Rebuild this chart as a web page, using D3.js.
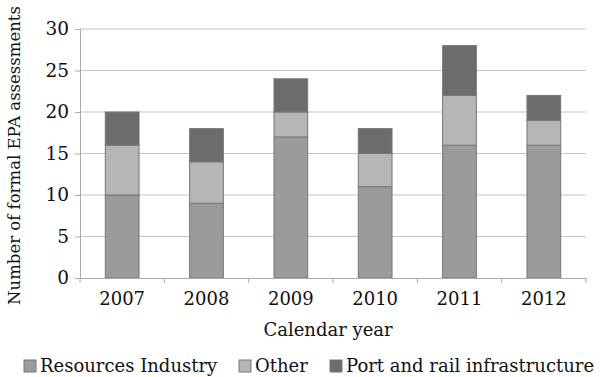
<!DOCTYPE html>
<html>
<head>
<meta charset="utf-8">
<script src="https://cdn.jsdelivr.net/npm/d3@7"></script>
<style>
  body { margin: 0; background: #fff; }
  svg text { font-family: "DejaVu Serif", serif; fill: #111; }
</style>
</head>
<body>
<svg id="SVG_CONTAINER" width="600" height="377"></svg>
<script>
// chart values
const years = ["2007", "2008", "2009", "2010", "2011", "2012"];
const resources = [10, 9, 17, 11, 16, 16];
const other = [6, 5, 3, 4, 6, 3];
const portRail = [4, 4, 4, 3, 6, 3];
const seriesNames = ["Resources Industry", "Other", "Port and rail infrastructure"];
const yTicks = [0, 5, 10, 15, 20, 25, 30];

const MARGIN = { LEFT: 80, RIGHT: 14, TOP: 29, BOTTOM: 99 };
const width = 600, height = 377;
const colors = ["#9b9b9b", "#b6b6b6", "#6c6c6c"];

var svg = d3.select("#SVG_CONTAINER");

// build rows for the stack layout
var rows = years.map((y, i) => ({ year: y, r: resources[i], o: other[i], p: portRail[i] }));
var stacked = d3.stack().keys(["r", "o", "p"])(rows);

var xScale = d3.scaleBand()
    .domain(years)
    .range([MARGIN.LEFT, width - MARGIN.RIGHT])
    .paddingInner(0.6)
    .paddingOuter(0.3);

var yScale = d3.scaleLinear()
    .domain([0, 30])
    .range([height - MARGIN.BOTTOM, MARGIN.TOP]);

// gridlines
svg.append("g")
    .selectAll("line")
    .data(yTicks.slice(1))
    .enter()
    .append("line")
    .attr("x1", MARGIN.LEFT)
    .attr("x2", width - MARGIN.RIGHT)
    .attr("y1", d => yScale(d))
    .attr("y2", d => yScale(d))
    .attr("stroke", "#c4c4c4")
    .attr("stroke-width", 1.2);

// bars
svg.append("g")
    .selectAll("g")
    .data(stacked)
    .enter()
    .append("g")
    .attr("fill", (d, i) => colors[i])
    .selectAll("rect")
    .data(d => d)
    .enter()
    .append("rect")
    .attr("x", d => xScale(d.data.year))
    .attr("y", d => yScale(d[1]))
    .attr("width", xScale.bandwidth())
    .attr("height", d => yScale(d[0]) - yScale(d[1]))
    .attr("stroke", "#777")
    .attr("stroke-width", 1);

// y axis
var yAxis = d3.axisLeft(yScale).tickValues(yTicks).tickSize(5).tickPadding(6);
svg.append("g")
    .attr("transform", "translate(" + MARGIN.LEFT + ",0)")
    .call(yAxis)
    .call(g => g.selectAll("path, line").attr("stroke", "#aaa"))
    .call(g => g.selectAll("text").style("font-size", "18.5px").attr("fill", "#111"));

// x axis, ticks sit between categories
var xAxis = d3.axisBottom(xScale).tickSize(0).tickPadding(14);
var xg = svg.append("g")
    .attr("transform", "translate(0," + (height - MARGIN.BOTTOM) + ")")
    .call(xAxis);
xg.select("path").attr("stroke", "#aaa");
xg.selectAll("text").style("font-size", "18px").attr("fill", "#111");
xg.selectAll(".sep")
    .data(years.concat(["end"]))
    .enter()
    .append("line")
    .attr("x1", (d, i) => MARGIN.LEFT + i * xScale.step())
    .attr("x2", (d, i) => MARGIN.LEFT + i * xScale.step())
    .attr("y1", 0)
    .attr("y2", 5)
    .attr("stroke", "#aaa");

// axis titles
svg.append("text")
    .attr("transform", "translate(14," + ((MARGIN.TOP + height - MARGIN.BOTTOM) / 2 + 2) + ") rotate(-90)")
    .attr("text-anchor", "middle")
    .attr("dy", "0.35em")
    .style("font-size", "16.5px")
    .text("Number of formal EPA assessments");

svg.append("text")
    .attr("x", 328)
    .attr("y", 336)
    .attr("text-anchor", "middle")
    .style("font-size", "18px")
    .text("Calendar year");

// legend
var legendX = [24, 239, 330];
var legend = svg.append("g")
    .selectAll("g")
    .data(seriesNames)
    .enter()
    .append("g")
    .attr("transform", (d, i) => "translate(" + legendX[i] + ",360)");
legend.append("rect")
    .attr("width", 12)
    .attr("height", 12)
    .attr("fill", (d, i) => colors[i])
    .attr("stroke", "#777");
legend.append("text")
    .attr("x", 16)
    .attr("y", 12)
    .style("font-size", "18px")
    .text(d => d);
</script>
</body>
</html>
